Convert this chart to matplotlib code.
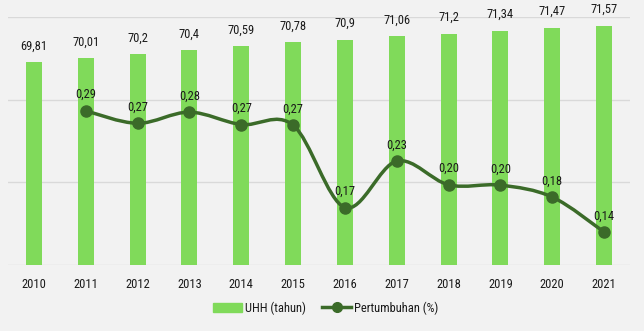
import numpy as np
import matplotlib.pyplot as plt
from matplotlib import font_manager
from matplotlib.path import Path
from matplotlib.patches import PathPatch, Patch
from matplotlib.lines import Line2D

# data
tahun = ['2010', '2011', '2012', '2013', '2014', '2015',
         '2016', '2017', '2018', '2019', '2020', '2021']
uhh = [69.81, 70.01, 70.2, 70.4, 70.59, 70.78, 70.9, 71.06, 71.2, 71.34, 71.47, 71.57]
uhh_label = ['69,81', '70,01', '70,2', '70,4', '70,59', '70,78',
             '70,9', '71,06', '71,2', '71,34', '71,47', '71,57']
pertumbuhan = [0.2865, 0.2714, 0.2849, 0.2699, 0.2692, 0.1695,
               0.2257, 0.1970, 0.1966, 0.1822, 0.1399]

bar_color = '#80da5a'
line_color = '#3b6b29'
bg = '#f2f2f2'

# condensed font if one is installed
fonts = font_manager.fontManager.ttflist
names = {f.name for f in fonts}
stretch = 'normal'
fam = 'DejaVu Sans'
fs = 8.5
if 'Roboto Condensed' in names:
    fam, fs = 'Roboto Condensed', 9
elif 'Liberation Sans Narrow' in names:
    fam, fs = 'Liberation Sans Narrow', 9
elif any(f.name == 'DejaVu Sans' and f.stretch == 'condensed' for f in fonts):
    stretch, fs = 'condensed', 8.5
else:
    fam, fs = 'Roboto', 8.5
plt.rcParams['font.family'] = [fam, 'DejaVu Sans']
plt.rcParams['font.stretch'] = stretch

fig = plt.figure(figsize=(6.44, 3.31), dpi=100, facecolor=bg)
ax = fig.add_axes([8 / 644, 1 - 265 / 331, 622 / 644, 248 / 331])
ax.set_facecolor(bg)

x = np.arange(len(tahun))
ax.bar(x, uhh, width=0.31, color=bar_color, zorder=2)
ax.set_ylim(60, 72)
ax.set_yticks([60, 64, 68, 72])
ax.set_xlim(-0.5, len(tahun) - 0.5)
ax.grid(axis='y', color='#d9d9d9', lw=1, zorder=0)
ax.set_axisbelow(True)
ax.set_xticks(x)
ax.set_xticklabels(tahun)
for s in ax.spines.values():
    s.set_visible(False)
for xi, v, t in zip(x, uhh, uhh_label):
    ax.annotate(t, (xi, v), xytext=(0, 7), textcoords='offset points',
                ha='center', va='bottom', fontsize=fs, color='#1a1a1a')

# secondary axis for growth line
ax2 = ax.twinx()
ax2.set_ylim(0.1, 0.4)
ax2.axis('off')
ax.tick_params(left=False, labelleft=False, right=False, bottom=False,
               labelsize=fs, labelcolor='#1a1a1a', pad=6)
xs = x[1:]
ys = np.array(pertumbuhan)

# smooth line (catmull-rom bezier, like a spreadsheet smoothed line)
verts = [(xs[0], ys[0])]
codes = [Path.MOVETO]
t = 1 / 6
n = len(xs)
for i in range(n - 1):
    p0 = (xs[max(i - 1, 0)], ys[max(i - 1, 0)])
    p1 = (xs[i], ys[i])
    p2 = (xs[i + 1], ys[i + 1])
    p3 = (xs[min(i + 2, n - 1)], ys[min(i + 2, n - 1)])
    c1 = (p1[0] + (p2[0] - p0[0]) * t, p1[1] + (p2[1] - p0[1]) * t)
    c2 = (p2[0] - (p3[0] - p1[0]) * t, p2[1] - (p3[1] - p1[1]) * t)
    verts += [c1, c2, p2]
    codes += [Path.CURVE4] * 3
ax2.add_patch(PathPatch(Path(verts, codes), fill=False, ec=line_color, lw=2.5, zorder=3))
ax2.plot(xs, ys, 'o', color=line_color, ms=8, zorder=4)
for xi, v in zip(xs, ys):
    ax2.annotate(f'{v:.2f}'.replace('.', ','), (xi, v), xytext=(0, 7),
                 textcoords='offset points', ha='center', va='bottom',
                 fontsize=fs, color='#1a1a1a')

handles = [Patch(color=bar_color),
           Line2D([], [], color=line_color, lw=2.5, marker='o', ms=7)]
fig.legend(handles, ['UHH (tahun)', 'Pertumbuhan (%)'], loc='center',
           bbox_to_anchor=(326 / 644, 1 - 308 / 331), ncol=2, frameon=False,
           fontsize=fs, handlelength=2.3, handletextpad=0.25, columnspacing=1.3,
           labelcolor='#1a1a1a')

fig.savefig('out.png', dpi=100, facecolor=bg)
